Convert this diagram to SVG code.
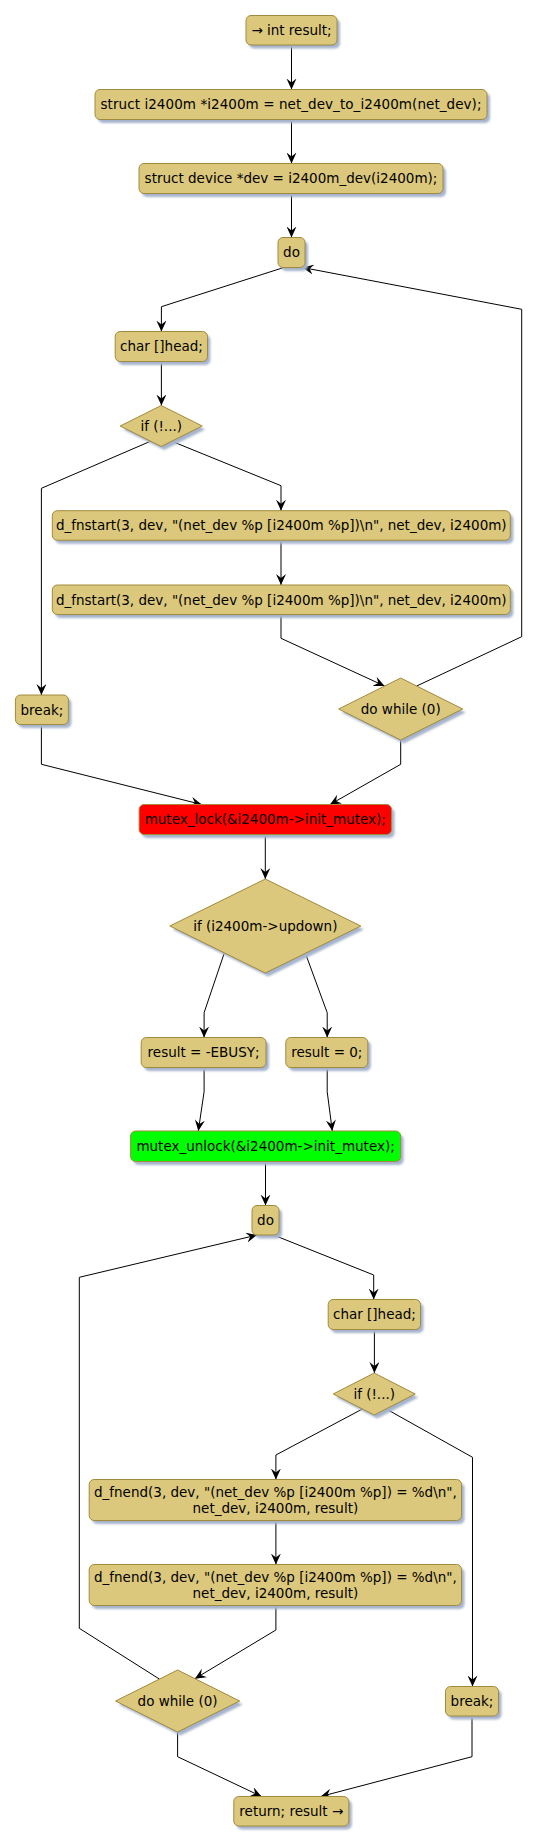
<svg xmlns="http://www.w3.org/2000/svg" width="537" height="1845" viewBox="0 0 537 1845">
<style>
.n{fill:#DCC87C;stroke:#A08A3C;stroke-width:1}
.sh{fill:#A5B3CC}
.red{fill:#FF0000}
.grn{fill:#00FF00}
.t{font-family:"DejaVu Sans",sans-serif;font-size:13.5px;fill:#000;text-anchor:middle}
.c{fill:none;stroke:#000;stroke-width:1;marker-end:url(#ah)}
</style>
<defs>
<filter id="blur" x="-10%" y="-10%" width="130%" height="140%"><feGaussianBlur stdDeviation="1"/></filter>
<marker id="ah" markerWidth="12" markerHeight="11" refX="11" refY="5" orient="auto" markerUnits="userSpaceOnUse"><path d="M0,0 L11,5 L0,10 L4,5 Z" fill="#000"/></marker>
</defs>
<rect width="537" height="1845" fill="#fff"/>

<g id="connectors">
<path class="c" d="M291.5,45 V89.5"/>
<path class="c" d="M291.5,119.5 V163.5"/>
<path class="c" d="M291.5,193.5 V237.5"/>
<path class="c" d="M283.8,267.5 L161.4,306.7 V331.5"/>
<path class="c" d="M416.7,686 L521.7,636.7 V309.3 L302.6,267.5"/>
<path class="c" d="M161.4,361.5 V405.5"/>
<path class="c" d="M150.4,441.3 L41.4,488.3 V695"/>
<path class="c" d="M171.9,441.3 L281,485.7 V510.7"/>
<path class="c" d="M281,540.2 V585"/>
<path class="c" d="M281,614.5 V638.3 L384.6,686"/>
<path class="c" d="M41.4,724.5 V764.3 L201.7,804.5"/>
<path class="c" d="M400.7,740 V764.3 L330,804.5"/>
<path class="c" d="M265.3,834.5 V879"/>
<path class="c" d="M224.3,953 L204.1,1012.7 V1037.5"/>
<path class="c" d="M305.3,953 L327.2,1012.7 V1037.5"/>
<path class="c" d="M204.1,1067.5 V1091.7 L198.3,1131"/>
<path class="c" d="M327.2,1067.5 V1091.7 L332.3,1131"/>
<path class="c" d="M265.5,1161.5 V1205.5"/>
<path class="c" d="M273.5,1235 L373.7,1275 V1299.5"/>
<path class="c" d="M159.3,1679 L79.3,1628.3 V1277.3 L257.1,1235"/>
<path class="c" d="M374.4,1329.5 V1373"/>
<path class="c" d="M362.4,1409 L275.9,1455 V1479.5"/>
<path class="c" d="M386.3,1409 L472.5,1457.3 V1686.5"/>
<path class="c" d="M275.9,1520.5 V1564.5"/>
<path class="c" d="M275.9,1605.5 V1630 L194.9,1678.7"/>
<path class="c" d="M177.6,1732 V1756.7 L261.5,1796.5"/>
<path class="c" d="M472,1716 V1756.7 L320.7,1796.5"/>
</g>

<g id="n1">
<rect class="sh" filter="url(#blur)" x="249" y="19" width="91" height="29.5" rx="5"/>
<rect class="n" x="246" y="15.5" width="91" height="29.5" rx="5"/>
<text class="t" x="291.5" y="35.1">→ int result;</text>
</g>
<g id="n2">
<rect class="sh" filter="url(#blur)" x="98" y="93" width="392" height="30" rx="5"/>
<rect class="n" x="95" y="89.5" width="392" height="30" rx="5"/>
<text class="t" x="291" y="109.3" textLength="381" lengthAdjust="spacing">struct i2400m *i2400m = net_dev_to_i2400m(net_dev);</text>
</g>
<g id="n3">
<rect class="sh" filter="url(#blur)" x="142" y="167" width="304" height="30" rx="5"/>
<rect class="n" x="139" y="163.5" width="304" height="30" rx="5"/>
<text class="t" x="291" y="183.3">struct device *dev = i2400m_dev(i2400m);</text>
</g>
<g id="n4">
<rect class="sh" filter="url(#blur)" x="281" y="241" width="27" height="30" rx="5"/>
<rect class="n" x="278" y="237.5" width="27" height="30" rx="5"/>
<text class="t" x="291.5" y="257.3">do</text>
</g>
<g id="n5">
<rect class="sh" filter="url(#blur)" x="118" y="335" width="92.3" height="30" rx="5"/>
<rect class="n" x="115.2" y="331.5" width="92.3" height="30" rx="5"/>
<text class="t" x="161.4" y="351.3">char []head;</text>
</g>
<g id="n6">
<polygon class="sh" filter="url(#blur)" points="164.2,409 205.2,429.5 164.2,450 123.2,429.5"/>
<polygon class="n" points="161.2,405.5 202.2,426 161.2,446.5 120.2,426"/>
<text class="t" x="161.2" y="430.8">if (!...)</text>
</g>
<g id="n7">
<rect class="sh" filter="url(#blur)" x="55.3" y="514.2" width="458" height="29.5" rx="5"/>
<rect class="n" x="52.3" y="510.7" width="458" height="29.5" rx="5"/>
<text class="t" x="281.3" y="530.3">d_fnstart(3, dev, "(net_dev %p [i2400m %p])\n", net_dev, i2400m)</text>
</g>
<g id="n8">
<rect class="sh" filter="url(#blur)" x="55.3" y="588.5" width="458" height="29.5" rx="5"/>
<rect class="n" x="52.3" y="585" width="458" height="29.5" rx="5"/>
<text class="t" x="281.3" y="604.6">d_fnstart(3, dev, "(net_dev %p [i2400m %p])\n", net_dev, i2400m)</text>
</g>
<g id="n9">
<rect class="sh" filter="url(#blur)" x="18.4" y="698.5" width="53" height="29.5" rx="5"/>
<rect class="n" x="15.4" y="695" width="53" height="29.5" rx="5"/>
<text class="t" x="41.9" y="714.6">break;</text>
</g>
<g id="n10">
<polygon class="sh" filter="url(#blur)" points="403.7,681.5 465.7,712.5 403.7,743.5 341.7,712.5"/>
<polygon class="n" points="400.7,678 462.7,709 400.7,740 338.7,709"/>
<text class="t" x="400.7" y="713.8">do while (0)</text>
</g>
<g id="n11">
<rect class="sh" filter="url(#blur)" x="142.1" y="808" width="252.4" height="30" rx="5"/>
<rect class="n red" x="139.1" y="804.5" width="252.4" height="30" rx="5"/>
<text class="t" x="265.3" y="824.3">mutex_lock(&amp;i2400m-&gt;init_mutex);</text>
</g>
<g id="n12">
<polygon class="sh" filter="url(#blur)" points="268.3,882.5 363.8,929.5 268.3,976.5 172.8,929.5"/>
<polygon class="n" points="265.3,879 360.8,926 265.3,973 169.8,926"/>
<text class="t" x="265.3" y="930.8">if (i2400m-&gt;updown)</text>
</g>
<g id="n13">
<rect class="sh" filter="url(#blur)" x="144.2" y="1041" width="124.8" height="30" rx="5"/>
<rect class="n" x="141.2" y="1037.5" width="124.8" height="30" rx="5"/>
<text class="t" x="203.6" y="1057.3">result = -EBUSY;</text>
</g>
<g id="n14">
<rect class="sh" filter="url(#blur)" x="288.8" y="1041" width="82" height="30" rx="5"/>
<rect class="n" x="285.8" y="1037.5" width="82" height="30" rx="5"/>
<text class="t" x="326.8" y="1057.3">result = 0;</text>
</g>
<g id="n15">
<rect class="sh" filter="url(#blur)" x="133.6" y="1134.5" width="270" height="30.5" rx="5"/>
<rect class="n grn" x="130.6" y="1131" width="270" height="30.5" rx="5"/>
<text class="t" x="265.6" y="1151">mutex_unlock(&amp;i2400m-&gt;init_mutex);</text>
</g>
<g id="n16">
<rect class="sh" filter="url(#blur)" x="255" y="1209" width="27" height="29.5" rx="5"/>
<rect class="n" x="252" y="1205.5" width="27" height="29.5" rx="5"/>
<text class="t" x="265.5" y="1225.1">do</text>
</g>
<g id="n17">
<rect class="sh" filter="url(#blur)" x="331.2" y="1303" width="92.3" height="30" rx="5"/>
<rect class="n" x="328.2" y="1299.5" width="92.3" height="30" rx="5"/>
<text class="t" x="374.4" y="1319.3">char []head;</text>
</g>
<g id="n18">
<polygon class="sh" filter="url(#blur)" points="377.2,1376.5 418.2,1397.5 377.2,1418.5 336.2,1397.5"/>
<polygon class="n" points="374.2,1373 415.2,1394 374.2,1415 333.2,1394"/>
<text class="t" x="374.2" y="1398.8">if (!...)</text>
</g>
<g id="n19">
<rect class="sh" filter="url(#blur)" x="92.2" y="1483" width="372.3" height="41" rx="5"/>
<rect class="n" x="89.2" y="1479.5" width="372.3" height="41" rx="5"/>
<text class="t" x="275.4" y="1496.9">d_fnend(3, dev, "(net_dev %p [i2400m %p]) = %d\n",</text>
<text class="t" x="275.4" y="1513.1">net_dev, i2400m, result)</text>
</g>
<g id="n20">
<rect class="sh" filter="url(#blur)" x="92.2" y="1568" width="372.3" height="41" rx="5"/>
<rect class="n" x="89.2" y="1564.5" width="372.3" height="41" rx="5"/>
<text class="t" x="275.4" y="1581.9">d_fnend(3, dev, "(net_dev %p [i2400m %p]) = %d\n",</text>
<text class="t" x="275.4" y="1598.1">net_dev, i2400m, result)</text>
</g>
<g id="n21">
<polygon class="sh" filter="url(#blur)" points="180.6,1673.5 242.6,1704.5 180.6,1735.5 118.6,1704.5"/>
<polygon class="n" points="177.6,1670 239.6,1701 177.6,1732 115.6,1701"/>
<text class="t" x="177.6" y="1705.8">do while (0)</text>
</g>
<g id="n22">
<rect class="sh" filter="url(#blur)" x="448.5" y="1690" width="53" height="29.5" rx="5"/>
<rect class="n" x="445.5" y="1686.5" width="53" height="29.5" rx="5"/>
<text class="t" x="472" y="1706.1">break;</text>
</g>
<g id="n23">
<rect class="sh" filter="url(#blur)" x="236.8" y="1800" width="115" height="29.5" rx="5"/>
<rect class="n" x="233.8" y="1796.5" width="115" height="29.5" rx="5"/>
<text class="t" x="291.3" y="1816.1">return; result →</text>
</g>
</svg>
